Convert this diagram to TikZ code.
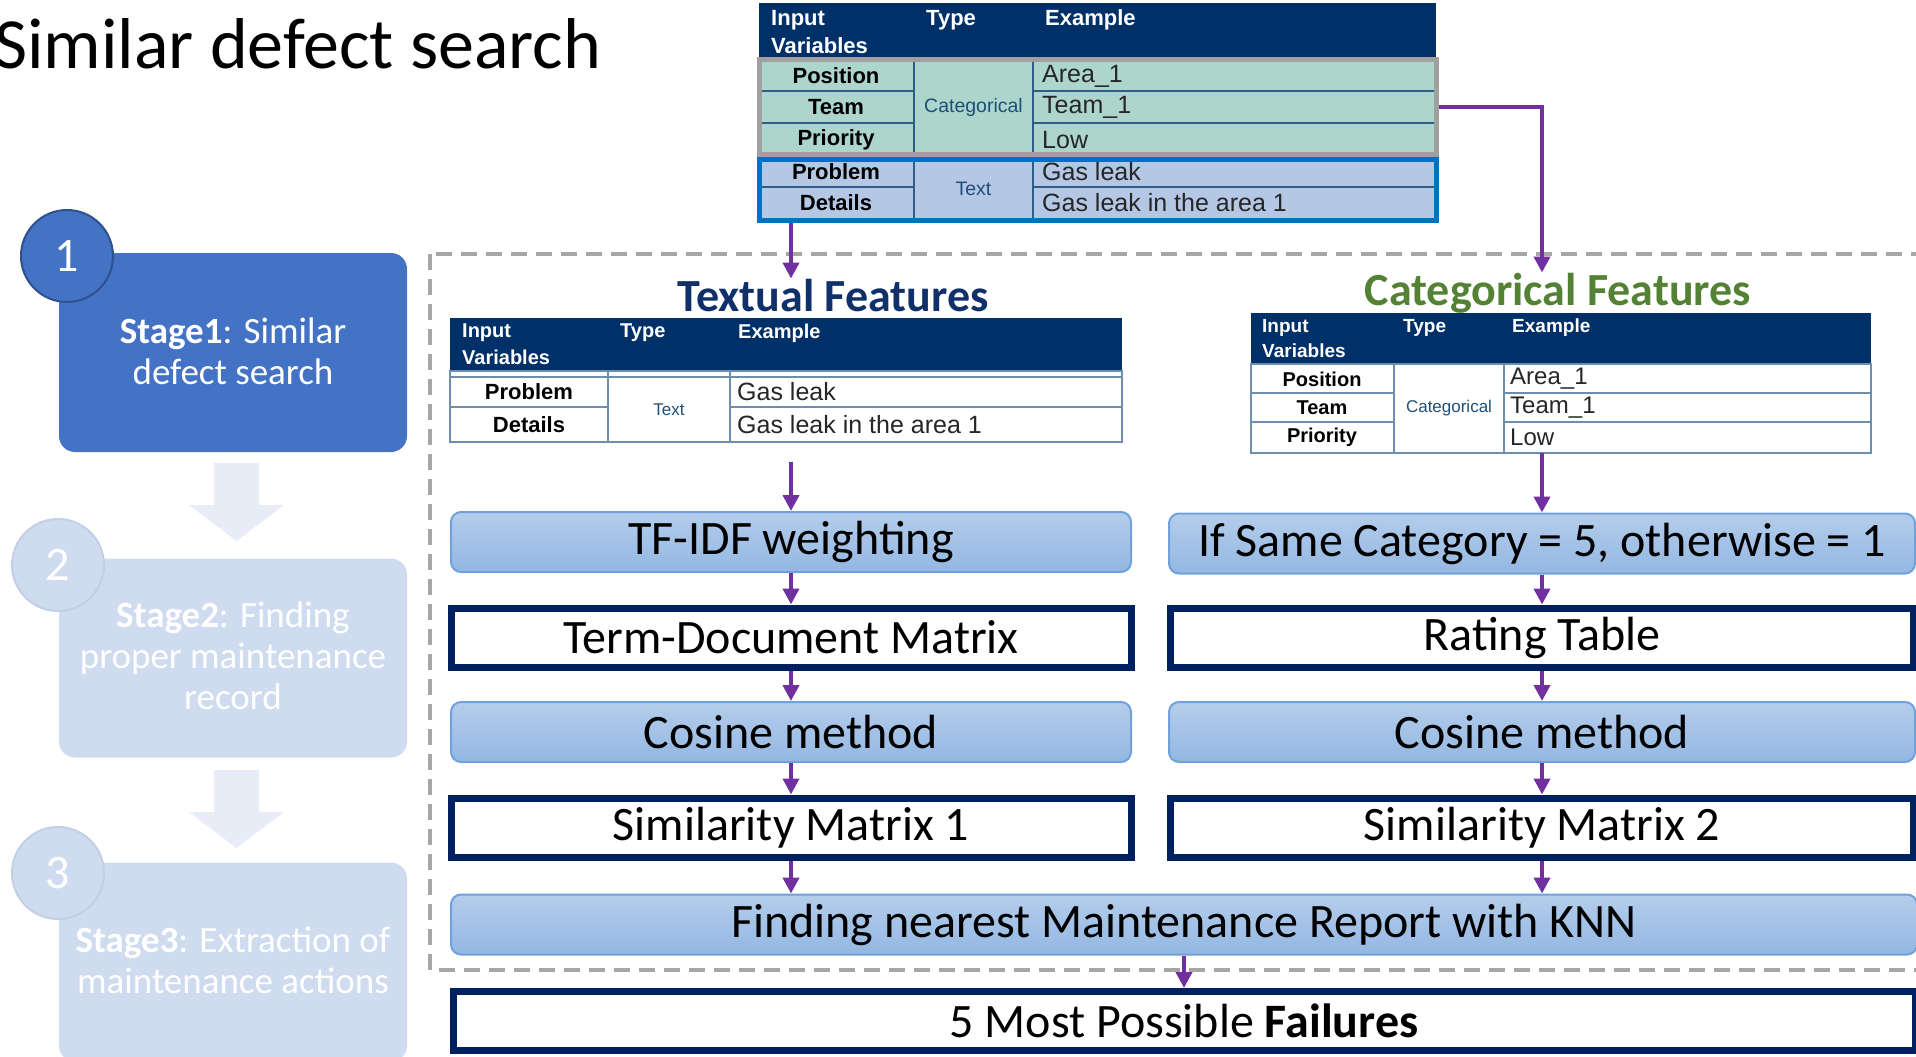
\documentclass[tikz,border=0pt]{standalone}
\usepackage{fontspec}
\setmainfont{Carlito}
\newfontfamily\tabfont{Liberation Sans}
\usepackage{tikz}
\usetikzlibrary{arrows.meta, calc, positioning}

\definecolor{navy}{HTML}{002060}
\definecolor{headnavy}{HTML}{003068}
\definecolor{flowpurple}{HTML}{7030A0}
\definecolor{boxtop}{HTML}{B4CDEB}
\definecolor{boxbot}{HTML}{93B7E2}
\definecolor{boxedge}{HTML}{6FA1DC}
\definecolor{stageblue}{HTML}{4472C4}
\definecolor{stagedark}{HTML}{2F528F}
\definecolor{stagefade}{HTML}{CFDBEF}
\definecolor{fadeedge}{HTML}{C3CFE6}
\definecolor{fadearrow}{HTML}{E8ECF6}
\definecolor{catfill}{HTML}{ACD5CC}
\definecolor{txtfill}{HTML}{B4C7E4}
\definecolor{catedge}{HTML}{A0A0A0}
\definecolor{txtedge}{HTML}{0070C0}
\definecolor{gridblue}{HTML}{2F5D8A}
\definecolor{typeblue}{HTML}{1F4E79}
\definecolor{textnavy}{HTML}{10306A}
\definecolor{catgreen}{HTML}{548235}

\begin{document}
\begin{tikzpicture}[x=1pt, y=-1pt, >={Triangle[length=16pt,width=16pt]},
  flow/.style={->, draw=flowpurple, line width=4pt},
  softbox/.style={rounded corners=10pt, draw=boxedge, line width=2pt, top color=boxtop, bottom color=boxbot,
    minimum height=60pt, inner sep=0pt, font=\fontsize{48}{52}\selectfont},
  hardbox/.style={draw=navy, line width=7pt, fill=white, minimum height=59pt, inner sep=0pt,
    font=\fontsize{48}{52}\selectfont},
  stagebox/.style={rounded corners=16pt, minimum width=348pt, minimum height=199pt, inner sep=0pt},
  stagetext/.style={text=white, align=center, font=\fontsize{37}{41}\selectfont},
  stagenum/.style={circle, minimum size=92pt, inner sep=0pt, line width=2pt, text=white,
    font=\fontsize{48}{50}\selectfont},
  heading/.style={anchor=base, inner sep=0pt, font=\bfseries\fontsize{46}{50}\selectfont},
  gridline/.style={draw=gridblue, line width=1.6pt},
  thead/.style={anchor=west, text=white, inner sep=0pt, font=\tabfont\bfseries\fontsize{22}{24}\selectfont},
  tvar/.style={inner sep=0pt, font=\tabfont\bfseries\fontsize{22}{24}\selectfont},
  tcell/.style={anchor=west, inner sep=0pt, text=black!85, font=\tabfont\fontsize{25}{27}\selectfont},
  ttype/.style={inner sep=0pt, text=typeblue, font=\tabfont\fontsize{19.5}{21}\selectfont},
  dashframe/.style={draw=black!35, line width=4pt, dash pattern=on 16pt off 9pt}]

\useasboundingbox (0,0) rectangle (1916,1057);
\clip (0,0) rectangle (1916,1057);

\node[anchor=base west, inner sep=0pt, font=\fontsize{72}{80}\selectfont] (title) at (-6,68) {Similar defect search};

% stages on the left
\node[stagebox, fill=stageblue] (stage1) at (233,352.5) {};
\node[stagebox, fill=stagefade] (stage2) at (233,658) {};
\node[stagebox, fill=stagefade] (stage3) at (233,962) {};
\node[stagetext] (stage1txt) at (233,351) {\textbf{Stage1}: Similar\\defect search};
\node[stagetext] (stage2txt) at (233,656) {\textbf{Stage2}: Finding\\proper maintenance\\record};
\node[stagetext] (stage3txt) at (233,960) {\textbf{Stage3}: Extraction of\\maintenance actions};
\node[stagenum, fill=stageblue, draw=stagedark] (num1) at (67,256) {1};
\node[stagenum, fill=stagefade, draw=fadeedge] (num2) at (58,565) {2};
\node[stagenum, fill=stagefade, draw=fadeedge] (num3) at (58,873) {3};
\foreach \ya in {463,770}
  \fill[fadearrow] (214,\ya) -- (259,\ya) -- (259,\ya+42) -- (284,\ya+42) -- (236.5,\ya+78)
    -- (189,\ya+42) -- (214,\ya+42) -- cycle;

\draw[dashframe] (430,254) rectangle (1950,970);

% input table at the top
\fill[headnavy] (759,3) rectangle (1436,58);
\fill[catfill] (759,58) rectangle (1436,155);
\fill[txtfill] (759,158) rectangle (1436,220);
\draw[gridline] (759,91) -- (914,91) (1033,91) -- (1436,91)
  (759,123) -- (914,123) (1033,123) -- (1436,123)
  (759,187) -- (914,187) (1033,187) -- (1436,187)
  (914,58) -- (914,220) (1033,58) -- (1033,220);
\node[draw=catedge, line width=5pt, minimum width=677pt, minimum height=95pt, inner sep=0pt] (catsel) at (1097.5,107) {};
\node[draw=txtedge, line width=5pt, minimum width=677pt, minimum height=61pt, inner sep=0pt] (txtsel) at (1097.5,189.5) {};
\node[thead] (tophd1) at (771,20) {Input};
\node[thead] (tophd2) at (771,46) {Variables};
\node[thead] (tophd3) at (926,20) {Type};
\node[thead] (tophd4) at (1045,20) {Example};
\foreach \vr/\ya/\ex [count=\i] in {Position/76/Area\_1, Team/107/Team\_1, Priority/140/Low,
    Problem/172/Gas leak, Details/203/Gas leak in the area 1} {
  \node[tvar] (topvar\i) at (836,\ya) {\vr};
  \node[tcell] (topex\i) at (1042,\ya) {\ex};
}
\node[ttype] (toptype1) at (973.5,107) {Categorical};
\node[ttype] (toptype2) at (973.5,189) {Text};

% textual features
\node[heading, text=textnavy] (txtfeat) at (833,311) {Textual Features};
\fill[headnavy] (450,318) rectangle (1122,371);
\draw[gridline, draw=gridblue!70] (450,371) rectangle (1122,442)
  (450,377) -- (1122,377) (450,407) -- (608,407) (730,407) -- (1122,407)
  (608,371) -- (608,442) (730,371) -- (730,442);
\node[thead, font=\tabfont\bfseries\fontsize{20}{22}\selectfont] (txthd1) at (462,333) {Input};
\node[thead, font=\tabfont\bfseries\fontsize{20}{22}\selectfont] (txthd2) at (462,357) {Variables};
\node[thead, font=\tabfont\bfseries\fontsize{20}{22}\selectfont] (txthd3) at (620,333) {Type};
\node[thead, font=\tabfont\bfseries\fontsize{20}{22}\selectfont] (txthd4) at (738,333) {Example};
\node[tvar] (txtvar1) at (529,392) {Problem};
\node[tvar] (txtvar2) at (529,425) {Details};
\node[ttype, font=\tabfont\fontsize{17}{19}\selectfont] (txttype) at (669,410) {Text};
\node[tcell] (txtex1) at (737,392) {Gas leak};
\node[tcell] (txtex2) at (737,425) {Gas leak in the area 1};
\coordinate (txttab) at (786,446);

% categorical features
\node[heading, text=catgreen] (catfeat) at (1558,305) {Categorical Features};
\fill[headnavy] (1251,313) rectangle (1871,364);
\draw[gridline, draw=gridblue!70] (1251,364) rectangle (1871,453)
  (1251,393) -- (1394,393) (1504,393) -- (1871,393)
  (1251,422) -- (1394,422) (1504,422) -- (1871,422)
  (1394,364) -- (1394,453) (1504,364) -- (1504,453);
\node[thead, font=\tabfont\bfseries\fontsize{19}{21}\selectfont] (cathd1) at (1262,328) {Input};
\node[thead, font=\tabfont\bfseries\fontsize{19}{21}\selectfont] (cathd2) at (1262,351) {Variables};
\node[thead, font=\tabfont\bfseries\fontsize{19}{21}\selectfont] (cathd3) at (1403,328) {Type};
\node[thead, font=\tabfont\bfseries\fontsize{19}{21}\selectfont] (cathd4) at (1512,328) {Example};
\foreach \vr/\ya/\ex [count=\i] in {Position/379/Area\_1, Team/408/Team\_1, Priority/437/Low} {
  \node[tvar, font=\tabfont\bfseries\fontsize{20}{22}\selectfont] (catvar\i) at (1322,\ya) {\vr};
  \node[tcell, font=\tabfont\fontsize{24}{26}\selectfont] (catex\i) at (1510,\ya) {\ex};
}
\node[ttype, font=\tabfont\fontsize{17}{19}\selectfont] (cattype) at (1449,408) {Categorical};
\coordinate (cattab) at (1560,453);

% processing steps
\node[softbox, minimum width=680pt] (tfidf) at (791,542) {TF-IDF weighting};
\node[hardbox, minimum width=680pt] (termdoc) at (791,637.5) {Term-Document Matrix};
\node[softbox, minimum width=680pt] (cos1) at (791,732) {Cosine method};
\node[hardbox, minimum width=680pt] (sim1) at (791,827.5) {Similarity Matrix 1};
\node[softbox, minimum width=746pt] (same) at (1542,543.5) {If Same Category = 5, otherwise = 1};
\node[hardbox, minimum width=743pt] (rating) at (1542,637.5) {Rating Table};
\node[softbox, minimum width=746pt] (cos2) at (1542,732) {Cosine method};
\node[hardbox, minimum width=743pt] (sim2) at (1542,827.5) {Similarity Matrix 2};
\node[softbox, minimum width=1466pt] (knn) at (1184,924.5) {Finding nearest Maintenance Report with KNN};
\node[hardbox, minimum width=1462pt] (fail) at (1184,1021) {5 Most Possible \textbf{Failures}};

\draw[flow] (txtsel.south -| tfidf.north) -- (txtfeat.north -| tfidf.north);
\draw[flow] (catsel.east) -| (catfeat.north -| same.north);
\draw[flow, shorten <=16pt] (txttab -| tfidf.north) -- (tfidf.north);
\draw[flow] (cattab -| same.north) -- (same.north);
\draw[flow] (tfidf) -- (termdoc);
\draw[flow] (termdoc) -- (cos1);
\draw[flow] (cos1) -- (sim1);
\draw[flow] (sim1) -- (sim1 |- knn.north);
\draw[flow] (same) -- (rating);
\draw[flow] (rating) -- (cos2);
\draw[flow] (cos2) -- (sim2);
\draw[flow] (sim2) -- (sim2 |- knn.north);
\draw[flow] (knn) -- (fail);

\end{tikzpicture}
\end{document}
